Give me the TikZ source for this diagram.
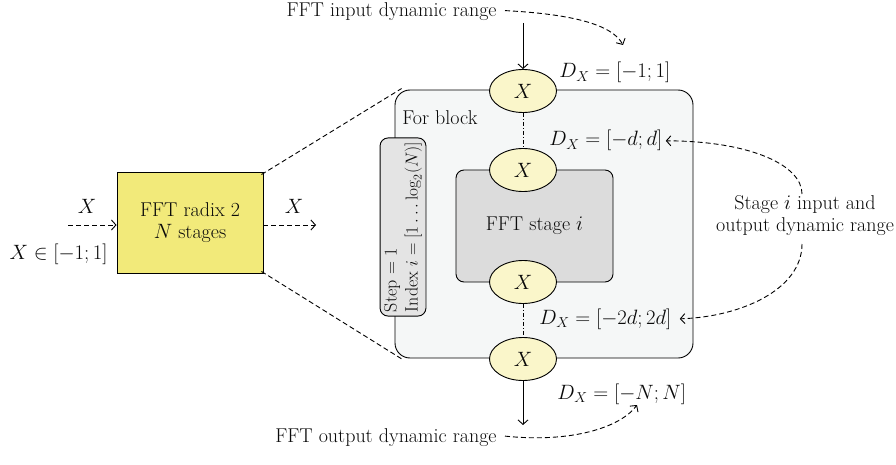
\documentclass[tikz,border=0pt]{standalone}
\usetikzlibrary{arrows.meta,calc,shapes.geometric}

\definecolor{radixfill}{RGB}{242,234,122}
\definecolor{samplefill}{RGB}{250,246,202}
\definecolor{blockfill}{RGB}{245,247,247}
\definecolor{stagefill}{RGB}{220,220,220}
\definecolor{loopfill}{RGB}{228,228,228}
\definecolor{ink}{RGB}{10,10,10}

\begin{document}
\begin{tikzpicture}[x=1pt,y=-1pt,
  font=\fontsize{20}{22}\selectfont,
  line width=0.9pt,
  >={Straight Barb[length=4.5pt,width=10pt]},
  lbl/.style={inner sep=0pt,text=ink},
  sample/.style={ellipse,draw,fill=samplefill,minimum width=67pt,
    minimum height=43pt,inner sep=0pt,text=ink},
  flowdash/.style={dash pattern=on 5pt off 3pt},
  chaindash/.style={dash pattern=on 4pt off 2pt on 1pt off 2pt},
]
\useasboundingbox (0,0) rectangle (896,465);

% enclosing for-loop block
\node[draw,fill=blockfill,rounded corners=15pt,minimum width=298pt,
  minimum height=268pt,inner sep=0pt] (forblock) at (544,224) {};
\node[lbl,anchor=base west] (forlabel) at (402,125) {For block};

% FFT radix 2 block on the left
\node[draw,fill=radixfill,minimum width=146pt,minimum height=101pt,
  inner sep=0pt,align=center,text=ink] (radix) at (190,222.5)
  {FFT radix 2\\$N$ stages};

% zoom lines from the radix block to the for block
\draw[flowdash] ([shift={(-2pt,-3pt)}]radix.north east) -- ([shift={(7pt,1pt)}]forblock.north west);
\draw[flowdash] ([shift={(-2pt,2pt)}]radix.south east) -- ([shift={(8pt,-1pt)}]forblock.south west);

% loop counter box
\node[draw,fill=loopfill,rounded corners=8pt,rotate=90,align=left,
  inner sep=4pt,text=ink,font=\fontsize{18}{21}\selectfont] (loop) at (403,227)
  {Step = 1\\Index $i=[1\ldots\log_2(N)]$};

% stage block
\node[draw,fill=stagefill,rounded corners=8pt,minimum width=157pt,
  minimum height=112pt,inner sep=0pt,text=ink] (stage) at (534.5,226)
  {FFT stage $i$};

% chained samples
\node[sample] (e1) at (523,91) {$X$};
\node[sample] (e2) at (523,170) {$X$};
\node[sample] (e3) at (523,282) {$X$};
\node[sample] (e4) at (523,359) {$X$};
\draw[chaindash] (e1.south) -- (e2.north);
\draw[chaindash] (e3.south) -- (e4.north);

% range labels
\node[lbl,anchor=base west] (r1) at (559,78) {$D_X=[-1;1]$};
\node[lbl,anchor=base west] (r2) at (549,146) {$D_X=[-d;d]$};
\node[lbl,anchor=base west] (r3) at (539,324) {$D_X=[-2d;2d]$};
\node[lbl,anchor=base west] (r4) at (557,399) {$D_X=[-N;N]$};

% input / output of the whole FFT
\coordinate (inflow) at (523,23);
\coordinate (outflow) at (523,425);
\draw[->] (inflow) -- (e1.north);
\draw[->] (e4.south) -- (outflow);

\node[lbl,anchor=base east] (intext) at (497,17) {FFT input dynamic range};
\node[lbl,anchor=base east] (outtext) at (497,442) {FFT output dynamic range};
\coordinate (intip) at (623,45);
\coordinate (outtip) at (637,405);
\draw[flowdash,->] ([xshift=8pt,yshift=1.5pt]intext.east)
  .. controls (570,14) and (612,24) .. (intip);
\draw[flowdash,->] ([xshift=8pt,yshift=1pt]outtext.east)
  .. controls (570,443) and (620,428) .. (outtip);

% stage range annotation
\node[lbl,align=center] (stagetext) at (805,216)
  {Stage $i$ input and\\output dynamic range};
\coordinate (rtop) at (802,194);
\coordinate (rbot) at (802,244);
\draw[flowdash,->] (rtop) .. controls (802,165) and (750,141) .. ([xshift=3pt]r2.east);
\draw[flowdash,->] (rbot) .. controls (802,290) and (740,317) .. ([xshift=8pt]r3.east);

% data path through the radix block
\coordinate (xin) at (68,225);
\coordinate (xout) at (316,225);
\draw[flowdash,->] (xin) -- (radix.west |- xin);
\draw[flowdash,->] (radix.east |- xout) -- (xout);
\node[lbl,anchor=base] (xinlabel) at (87,213) {$X$};
\node[lbl,anchor=base east] (xrange) at (108,259) {$X\in[-1;1]$};
\node[lbl,anchor=base] (xoutlabel) at (294,213) {$X$};
\end{tikzpicture}
\end{document}
